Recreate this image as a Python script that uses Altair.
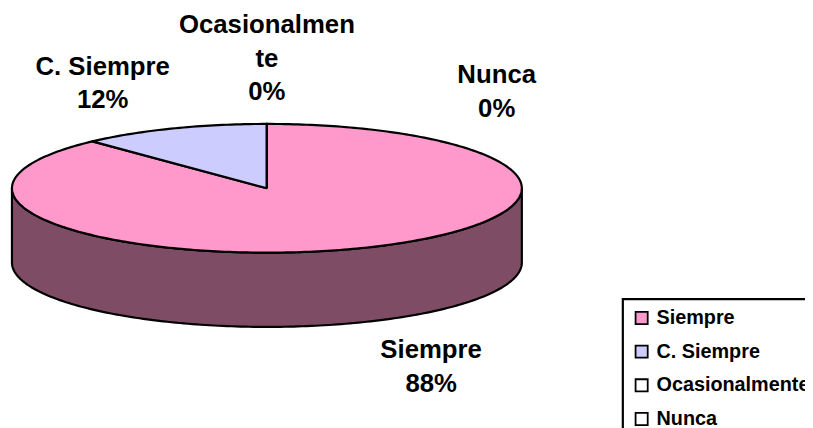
import math
import altair as alt
import pandas as pd

# ---------------- data ----------------
categories = ["Siempre", "C. Siempre", "Ocasionalmente", "Nunca"]
values = [88, 12, 0, 0]
top_colors = ["#FF99CC", "#CCCCFF", "#FFFFFF", "#FFFFFF"]
side_colors = ["#7F4C66", "#666680", "#808080", "#808080"]

# ---------------- layout ----------------
W, H = 805, 420          # plot area (page minus 8px margin)
UNIT = 257.5             # pixels per pie radius (horizontal)
CX, CY = 261.5, 180      # pie centre inside the plot area, px
RY = 65 / UNIT           # vertical squash of the ellipse
DEPTH = 75 / UNIT        # thickness of the pie
LABEL_K = 1.75           # label distance in radii
LINE_H = 34
FONT = "Liberation Sans"

x_dom = [-CX / UNIT, (W - CX) / UNIT]
y_dom = [-(H - CY) / UNIT, CY / UNIT]
xs = alt.Scale(domain=x_dom, range=[0, W], zero=False, nice=False)
ys = alt.Scale(domain=y_dom, range=[H, 0], zero=False, nice=False)

total = sum(values)
starts, ends = [], []
acc = 0.0
for v in values:
    starts.append(acc / total * 360)
    acc += v
    ends.append(acc / total * 360)


def pt(a, drop=0.0):
    r = math.radians(a)
    return math.sin(r), RY * math.cos(r) - drop


def arc(a0, a1, drop=0.0):
    n = max(2, int(abs(a1 - a0)) + 1)
    return [pt(a0 + (a1 - a0) * i / (n - 1), drop) for i in range(n)]


top_rows, side_rows = [], []
for i, cat in enumerate(categories):
    a0, a1 = starts[i], ends[i]
    pts = [(0.0, 0.0)] + (arc(a0, a1) if a1 > a0 else [pt(a0)]) + [(0.0, 0.0)]
    for k, (x, y) in enumerate(pts):
        top_rows.append({"category": cat, "poly": f"t{i}", "o": k, "x": x, "y": y})
    s, e = max(a0, 90.0), min(a1, 270.0)
    if e > s:
        spts = arc(s, e) + arc(e, s, DEPTH)
        spts.append(spts[0])
        for k, (x, y) in enumerate(spts):
            side_rows.append({"category": cat, "poly": f"s{i}", "o": k, "x": x,
                              "y": y, "col": side_colors[i]})

top_df = pd.DataFrame(top_rows)
side_df = pd.DataFrame(side_rows)


def wrap(word, n=12):
    if len(word) <= n:
        return [word]
    return [word[j:j + n] for j in range(0, len(word), n)]


label_rows = []
used = []
for i, cat in enumerate(categories):
    mid = (starts[i] + ends[i]) / 2
    while any(abs(mid - u) < 1e-6 for u in used):
        mid += 31
    used.append(mid)
    r = math.radians(mid)
    lines = wrap(cat) + [f"{round(values[i] / total * 100)}%"]
    x = LABEL_K * math.sin(r)
    y = LABEL_K * RY * math.cos(r)
    extra = (len(lines) - 2) * LINE_H / 2 / UNIT
    if math.cos(r) < 0:
        y -= DEPTH + extra
    else:
        y += extra
    # Vega puts the first line at y: shift so the block is centred
    y += (len(lines) - 1) * LINE_H / 2 / UNIT
    label_rows.append({"x": x, "y": y, "label": "\n".join(lines)})
label_df = pd.DataFrame(label_rows)

X = lambda: alt.X("x:Q", scale=xs, axis=None)
Y = lambda: alt.Y("y:Q", scale=ys, axis=None)

side = alt.Chart(side_df).mark_line(
    stroke="black", strokeWidth=2.2, strokeJoin="round"
).encode(
    x=X(), y=Y(), detail="poly:N", order="o:Q",
    fill=alt.Fill("col:N", scale=None),
)

top = alt.Chart(top_df).mark_line(
    stroke="black", strokeWidth=2.2, strokeJoin="round"
).encode(
    x=X(), y=Y(), detail="poly:N", order="o:Q",
    fill=alt.Fill(
        "category:N",
        scale=alt.Scale(domain=categories, range=top_colors),
        legend=alt.Legend(
            title=None, orient="none", legendX=621, legendY=292,
            symbolType="square", symbolSize=150, symbolStrokeColor="black",
            symbolStrokeWidth=1.8, symbolOpacity=1,
            labelFont=FONT, labelFontSize=20, labelFontWeight="bold",
            labelColor="black", labelLimit=400, labelOffset=5,
            rowPadding=14, padding=9, strokeColor="black",
        ),
    ),
)

labels = alt.Chart(label_df).mark_text(
    font=FONT, fontSize=26, fontWeight="bold", color="black",
    lineBreak="\n", lineHeight=LINE_H, align="center", baseline="middle",
).encode(x=X(), y=Y(), text="label:N")

chart = alt.layer(side, top, labels).properties(
    width=W, height=H, padding=0,
    autosize=alt.AutoSizeParams(type="none"),
).configure_view(stroke=None).configure_legend(strokeWidth=2.2)

chart.save("out.html", embed_options={"renderer": "svg", "actions": False})
